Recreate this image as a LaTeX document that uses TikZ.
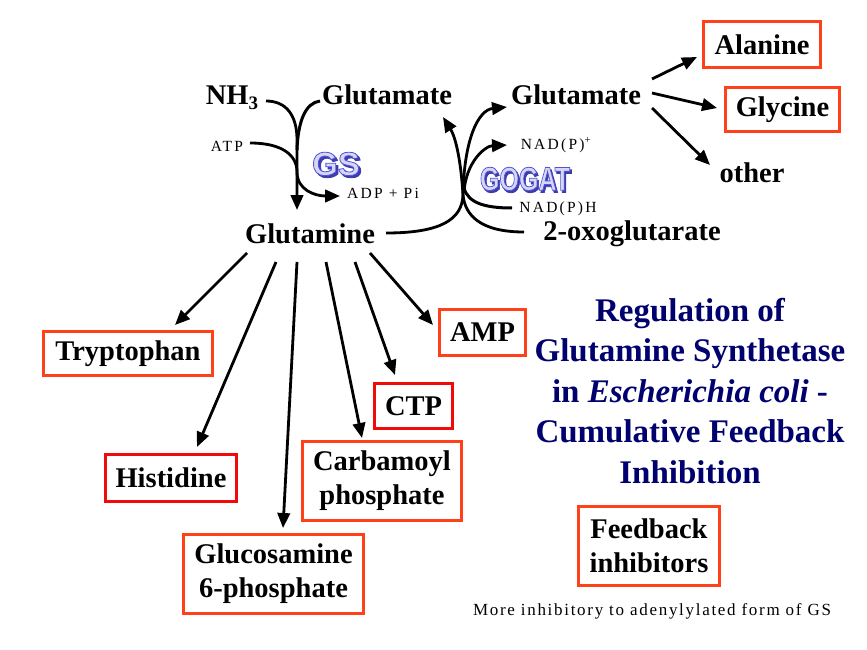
\documentclass[tikz,border=0pt]{standalone}
\usepackage{fontspec}
\setmainfont{Liberation Serif}
\newfontfamily\gsfont[FakeBold=2.5]{Liberation Sans Bold}
\newfontfamily\smallfont[LetterSpace=14.5]{Liberation Serif}
\newfontfamily\notefont[LetterSpace=10]{Liberation Serif}
\usetikzlibrary{arrows.meta,calc}
\definecolor{boxorange}{RGB}{255,64,24}
\definecolor{boxred}{RGB}{240,10,10}
\definecolor{navy}{RGB}{0,0,110}
\definecolor{gsshadow}{RGB}{60,60,170}
\newcommand\gstext[1]{\rlap{\raisebox{-2.2pt}{\kern2.2pt\color{gsshadow}#1}}%
  \special{pdf:bcolor [0.84 0.84 0.96] [0.32 0.32 0.86]}#1\special{pdf:ecolor}}
\begin{document}
\begin{tikzpicture}[x=1pt,y=-1pt,
  lbl/.style={inner sep=0pt,font=\fontsize{28.5}{34}\selectfont\bfseries,align=center},
  sml/.style={inner sep=0pt,font=\smallfont\fontsize{15.5}{17}\selectfont},
  box/.style={lbl,draw=boxorange,line width=3pt},
  redbox/.style={box,draw=boxred},
  fancy/.style={inner sep=0pt,font=\gsfont\fontsize{33}{33}\selectfont},
  arr/.style={line width=2.8pt,-{Triangle[length=15pt,width=12.5pt]}},
  flow/.style={line width=3pt}]
\useasboundingbox (0,0) rectangle (867,650);
\fill[white] (0,0) rectangle (867,650);

% top labels
\node[lbl] (nh3) at (232,98) {NH\raisebox{-5pt}{\fontsize{19}{19}\selectfont 3}};
\node[lbl] (gl) at (387,95) {Glutamate};
\node[lbl] (gr) at (576,95) {Glutamate};
\node[lbl] (gln) at (310,234) {Glutamine};
\node[lbl] (ox) at (632,234) {2-oxoglutarate};
\node[lbl] (other) at (752,173) {other};
\node[sml] (atp) at (227,146) {ATP};
\node[sml] (adp) at (383,193) {ADP + Pi};
\node[sml] (nadp) at (556,145) {NAD(P)\textsuperscript{+}};
\node[sml] (nadph) at (558,209) {NAD(P)H};
\node[fancy] (gs) at (336,165) {\gstext{GS}};
\node[fancy] (gogat) at (525,180) {\scalebox{0.76}[1]{\gstext{GOGAT}}};

% boxes
\node[box,minimum width=117,minimum height=46] (ala) at (762,44.5) {Alanine};
\node[box,minimum width=114,minimum height=44] (gly) at (782.5,109.5) {Glycine};
\node[box,minimum width=169,minimum height=44] (trp) at (128,353.5) {Tryptophan};
\node[redbox,minimum width=131,minimum height=47] (his) at (171,478) {Histidine};
\node[box,minimum width=180,minimum height=79] (gluc) at (273.5,574) {Glucosamine\\6-phosphate};
\node[box,minimum width=159,minimum height=79] (carb) at (382,481) {Carbamoyl\\phosphate};
\node[redbox,minimum width=78,minimum height=45] (ctp) at (413.5,406) {CTP};
\node[box,minimum width=86,minimum height=46] (amp) at (482.5,332.5) {AMP};
\node[box,minimum width=141,minimum height=79] (fb) at (649,546) {Feedback\\inhibitors};

% title
\node[inner sep=0pt,align=center,text=navy,font=\fontsize{33}{40.5}\selectfont\bfseries] (title) at (690,391)
  {Regulation of\\Glutamine Synthetase\\in \textit{Escherichia coli} -\\Cumulative Feedback\\Inhibition};
\node[inner sep=0pt,font=\notefont\fontsize{17}{19}\selectfont] (note) at (652,611) {More inhibitory to adenylylated form of GS};

% GS reaction
\draw[arr] ([shift={(34,3)}]nh3.center) .. controls (286,101) and (297,115) .. (297,140) -- ([shift={(-13,-24)}]gln.center);
\draw[flow] ([shift={(-67,6)}]gl.center) .. controls (305,103) and (298,122) .. (297,150);
\draw[arr] ([shift={(23,-3)}]atp.center) .. controls (282,143) and (297,155) .. (297,172) .. controls (297,190) and (315,196) .. ([shift={(-43,3)}]adp.center);

% GOGAT reaction
\draw[arr] ([shift={(76,-1)}]gln.center) .. controls (440,233) and (462,220) .. (463,195) .. controls (464,140) and (478,110) .. ([shift={(-69,12)}]gr.center);
\draw[arr] ([shift={(-108,-2)}]ox.center) .. controls (480,232) and (465,215) .. (463,195) .. controls (461,162) and (456,138) .. ([shift={(56,22)}]gl.center);
\draw[flow] ([shift={(-46,-1)}]nadph.center) .. controls (485,208) and (468,203) .. (464,188);
\draw[arr] (464,192) .. controls (466,162) and (485,146) .. ([shift={(-49,0)}]nadp.center);

% glutamate products
\draw[arr] ([shift={(76,-16)}]gr.center) -- ([shift={(-65,12.5)}]ala.center);
\draw[arr] ([shift={(76,-2)}]gr.center) -- ([shift={(-65.5,-1.5)}]gly.center);
\draw[arr] ([shift={(76,13)}]gr.center) -- ([shift={(-42,-8)}]other.center);

% glutamine products
\draw[arr] ([shift={(-63,19)}]gln.center) -- ([shift={(47,-28.5)}]trp.center);
\draw[arr] ([shift={(-34,28)}]gln.center) -- ([shift={(26,-31)}]his.center);
\draw[arr] ([shift={(-13,28)}]gln.center) -- ([shift={(9.5,-46)}]gluc.center);
\draw[arr] ([shift={(16,28)}]gln.center) -- ([shift={(-20,-43)}]carb.center);
\draw[arr] ([shift={(45,28)}]gln.center) -- ([shift={(-18.5,-31)}]ctp.center);
\draw[arr] ([shift={(60,19)}]gln.center) -- ([shift={(-49.5,-7.5)}]amp.center);
\end{tikzpicture}
\end{document}
